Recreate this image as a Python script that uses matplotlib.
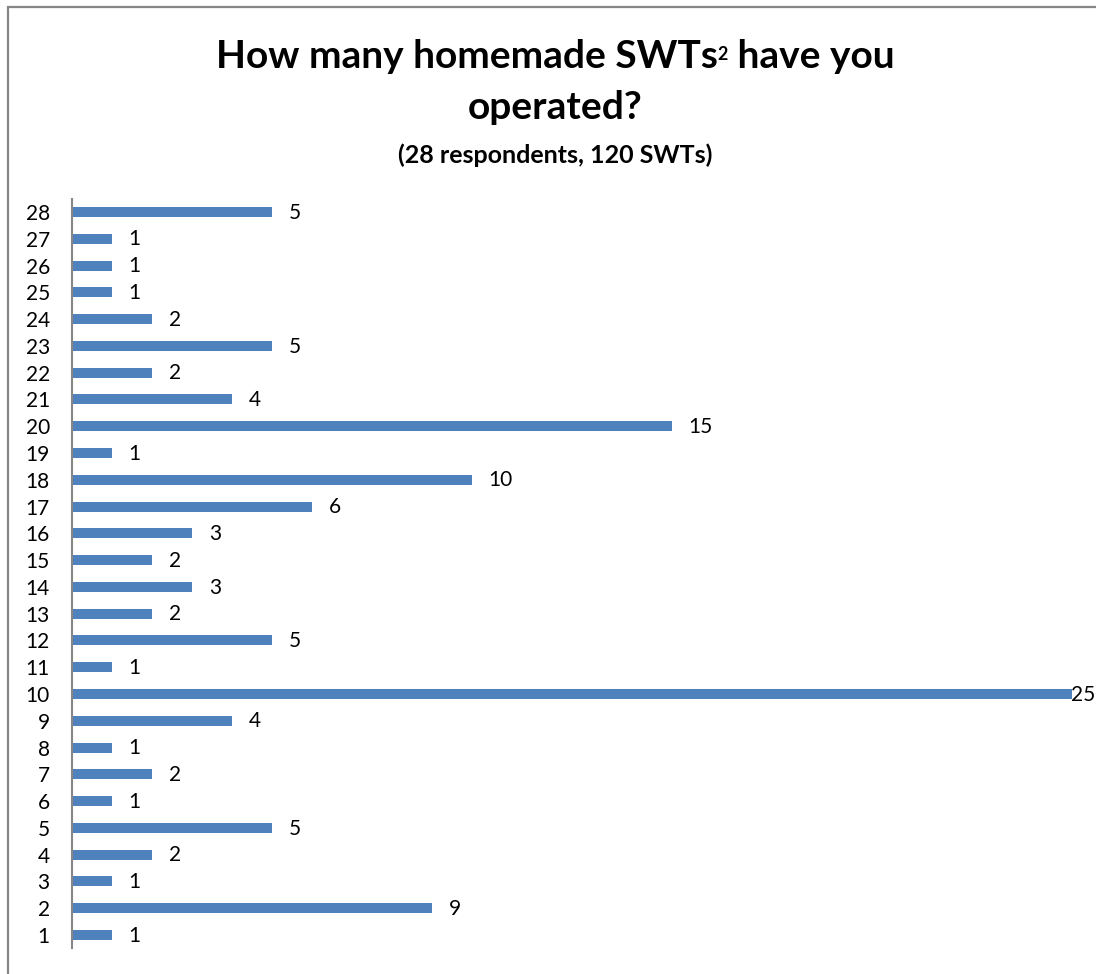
import matplotlib
matplotlib.use("Agg")
import matplotlib.pyplot as plt
from matplotlib.patches import Rectangle

plt.rcParams["font.family"] = ["Lato", "DejaVu Sans"]

# number of SWTs operated, one entry per respondent
respondents = list(range(1, 29))
swts = [1, 9, 1, 2, 5, 1, 2, 1, 4, 25, 1, 5, 2, 3, 2, 3, 6, 10, 1, 15,
        4, 2, 5, 2, 1, 1, 1, 5]

title_parts = ["How many homemade SWTs", "2", " have you"]
title_line2 = "operated?"
subtitle = "(28 respondents, 120 SWTs)"

W, H = 1096, 974
fig = plt.figure(figsize=(W / 100, H / 100), dpi=100)
fig.patch.set_facecolor("white")

# outer chart border (runs off the right and bottom edges)
fig.add_artist(Rectangle((8 / W, -0.1), 1.2, 967 / H + 0.1,
                         transform=fig.transFigure, fill=False,
                         edgecolor="#868686", linewidth=1.6))

ax = fig.add_axes([72 / W, (H - 948.4) / H, 1 - 72 / W, (948.4 - 198.6) / H])
ax.barh(respondents, swts, height=0.37, color="#4F81BD")
ax.set_xlim(0, (W - 72) / 40)
ax.set_ylim(0.5, 28.5)

for r, v in zip(respondents, swts):
    off = 12 if v < max(swts) else -0.5
    ax.annotate(str(v), (v, r), xytext=(off, -0.5), textcoords="offset points",
                ha="left", va="center", fontsize=15, color="black",
                annotation_clip=False)

ax.set_yticks(respondents)
ax.set_yticklabels([str(r) for r in respondents], fontsize=15)
ax.tick_params(axis="y", length=0, pad=16)
ax.set_xticks([])
for side in ["top", "right", "bottom"]:
    ax.spines[side].set_visible(False)
ax.spines["left"].set_color("#868686")
ax.spines["left"].set_linewidth(1.5)

# first title line: small raised "2" set between two pieces, centred as a whole
cx = 555
base1 = 1 - 68 / H
renderer = fig.canvas.get_renderer()
pieces = [
    fig.text(0, base1, title_parts[0], fontsize=28, fontweight="bold", va="baseline"),
    fig.text(0, base1 + 8 / H, title_parts[1], fontsize=13, fontweight="bold", va="baseline"),
    fig.text(0, base1, title_parts[2], fontsize=28, fontweight="bold", va="baseline"),
]
widths = [p.get_window_extent(renderer).width for p in pieces]
x = cx - sum(widths) / 2
for p, w in zip(pieces, widths):
    p.set_x(x / W)
    x += w

fig.text(cx / W, 1 - 119 / H, title_line2, ha="center", va="baseline",
         fontsize=28, fontweight="bold")
fig.text(cx / W, 1 - 163 / H, subtitle, ha="center", va="baseline",
         fontsize=18, fontweight="bold")

fig.savefig("out.png", dpi=100)
